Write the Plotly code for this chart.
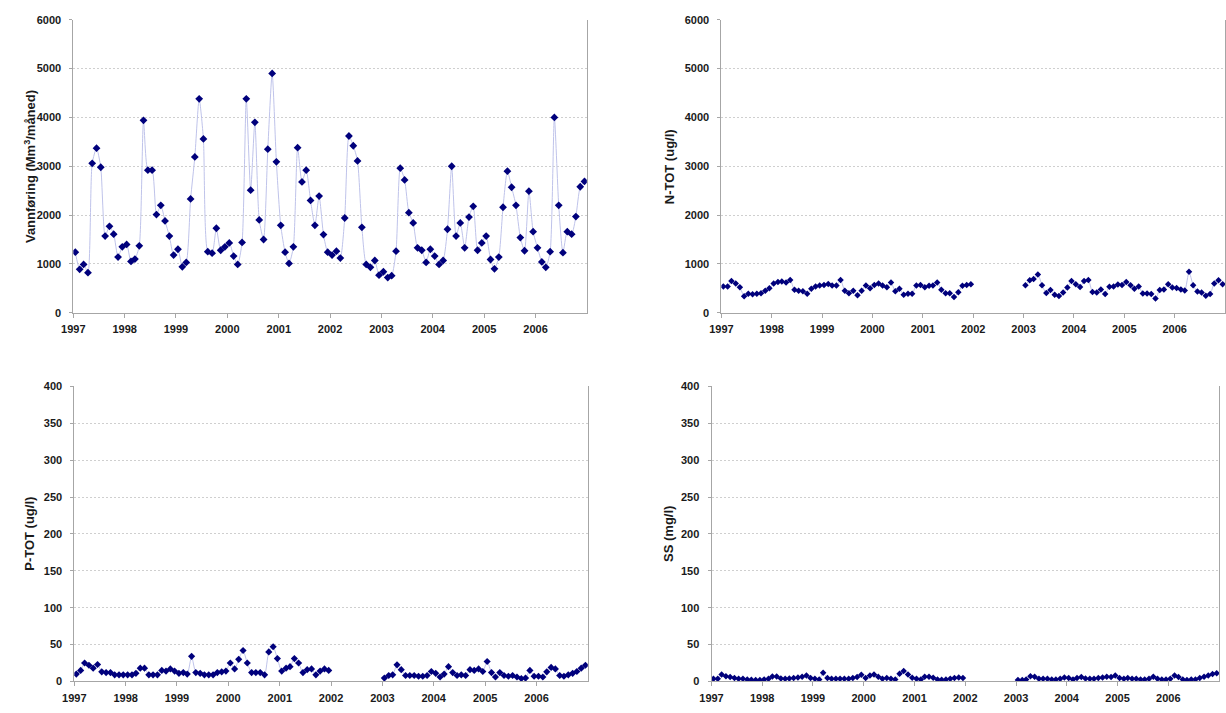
import plotly.graph_objects as go

# ---- time axis: monthly samples, plotted mid-month ----
YEARS = list(range(1997, 2007))
MONTH_DATES = [f"{y}-{m:02d}-15" for y in YEARS for m in range(1, 13)]
YEAR_TICKS = [f"{y}-01-01" for y in YEARS]
YEAR_LABELS = [str(y) for y in YEARS]

NA = [None] * 12  # no sampling in 2002 for the water-quality series

# ---- Vannføring (Mm3/måned) ----
flow_1997 = [1240, 890, 990, 820, 3060, 3370, 2980, 1570, 1770, 1610, 1140, 1350]
flow_1998 = [1400, 1050, 1100, 1370, 3940, 2920, 2920, 2010, 2200, 1880, 1570, 1180]
flow_1999 = [1300, 940, 1030, 2330, 3190, 4380, 3560, 1250, 1220, 1730, 1280, 1350]
flow_2000 = [1430, 1160, 990, 1440, 4380, 2510, 3900, 1900, 1500, 3350, 4900, 3090]
flow_2001 = [1790, 1240, 1010, 1350, 3380, 2680, 2920, 2300, 1790, 2390, 1600, 1240]
flow_2002 = [1180, 1260, 1120, 1940, 3620, 3420, 3110, 1750, 990, 930, 1070, 770]
flow_2003 = [840, 720, 760, 1260, 2960, 2720, 2050, 1840, 1330, 1280, 1030, 1300]
flow_2004 = [1160, 990, 1070, 1710, 3000, 1570, 1840, 1330, 1960, 2180, 1280, 1430]
flow_2005 = [1570, 1090, 900, 1140, 2160, 2900, 2570, 2200, 1540, 1270, 2490, 1660]
flow_2006 = [1330, 1040, 930, 1250, 4000, 2200, 1230, 1660, 1610, 1970, 2580, 2690]
vannforing = (flow_1997 + flow_1998 + flow_1999 + flow_2000 + flow_2001 +
              flow_2002 + flow_2003 + flow_2004 + flow_2005 + flow_2006)

# ---- N-TOT (ug/l) ----
ntot_1997 = [540, 540, 650, 600, 520, 340, 390, 380, 390, 400, 450, 500]
ntot_1998 = [600, 630, 640, 620, 670, 470, 450, 440, 390, 490, 540, 560]
ntot_1999 = [570, 590, 560, 560, 670, 450, 400, 450, 360, 450, 560, 500]
ntot_2000 = [570, 600, 560, 520, 620, 440, 490, 370, 390, 390, 560, 570]
ntot_2001 = [520, 555, 560, 620, 470, 400, 400, 320, 420, 555, 570, 585]
ntot_2003 = [565, 665, 690, 785, 565, 405, 465, 370, 345, 415, 515, 650]
ntot_2004 = [585, 525, 650, 670, 425, 415, 475, 385, 530, 540, 580, 570]
ntot_2005 = [630, 565, 490, 540, 395, 395, 385, 290, 465, 475, 585, 515]
ntot_2006 = [505, 475, 455, 840, 565, 435, 415, 350, 385, 600, 665, 585]
ntot = (ntot_1997 + ntot_1998 + ntot_1999 + ntot_2000 + ntot_2001 + NA +
        ntot_2003 + ntot_2004 + ntot_2005 + ntot_2006)

# ---- P-TOT (ug/l) ----
ptot_1997 = [10, 15, 25, 22, 18, 23, 13, 12, 12, 9, 9, 9]
ptot_1998 = [9, 9, 11, 18, 18, 9, 9, 9, 15, 14, 17, 14]
ptot_1999 = [11, 12, 10, 34, 12, 11, 9, 9, 9, 12, 13, 14]
ptot_2000 = [25, 17, 30, 42, 25, 12, 12, 12, 9, 40, 47, 31]
ptot_2001 = [14, 18, 20, 31, 25, 12, 16, 17, 9, 14, 17, 15]
ptot_2003 = [4.5, 8, 9, 22.5, 16, 8, 8, 8, 7, 7, 8, 13.5]
ptot_2004 = [11, 6, 10, 20, 12, 8, 9, 8, 16, 15, 17, 13.5]
ptot_2005 = [27, 12, 6, 12, 8, 7, 8, 6, 4, 4.5, 15, 7]
ptot_2006 = [7, 6, 13, 19, 17, 8, 7, 9, 11, 13.5, 18, 22]
ptot = (ptot_1997 + ptot_1998 + ptot_1999 + ptot_2000 + ptot_2001 + NA +
        ptot_2003 + ptot_2004 + ptot_2005 + ptot_2006)

# ---- SS (mg/l) ----
ss_1997 = [3.6, 3.6, 9.5, 7, 6, 4.5, 3.6, 3.6, 2.7, 2.3, 1.8, 1.8]
ss_1998 = [2.7, 3.6, 6.8, 6.8, 4, 3.6, 4, 4.5, 5.4, 6.3, 8, 4.5]
ss_1999 = [3.6, 2.7, 11.7, 4.5, 3.6, 3.6, 3.6, 3.6, 3.6, 4.5, 6, 9]
ss_2000 = [4.5, 8, 9.5, 6.3, 3.6, 4.5, 3.6, 2.7, 10.4, 14, 9.5, 5]
ss_2001 = [3.6, 2.7, 6.3, 6.3, 5, 2.7, 2.3, 2.7, 3.6, 4.5, 5.4, 4.5]
ss_2003 = [1.8, 1.8, 2.7, 7.2, 6.3, 3.6, 3.6, 3.6, 2.7, 2.7, 3.6, 5.4]
ss_2004 = [4.5, 2.7, 4.5, 6, 4, 3.6, 3.6, 4.5, 5.4, 6.3, 6, 8]
ss_2005 = [4.5, 3.6, 4.5, 3.6, 3.6, 2.7, 2.7, 3.6, 6.3, 3.6, 2.7, 2.7]
ss_2006 = [3.6, 8, 6, 2.7, 1.8, 2.7, 2.7, 4.5, 6.3, 8, 10, 11]
ss = (ss_1997 + ss_1998 + ss_1999 + ss_2000 + ss_2001 + NA +
      ss_2003 + ss_2004 + ss_2005 + ss_2006)

W, H = 1226, 713
MARKER = "#00007c"
LINE = "#bfc3ea"
AXIS = "#a6a6a6"
GRID = "#cfcfcf"
FONT = "Liberation Sans"


def px_x(a, b):
    return [a / W, b / W]


def px_y(top, bottom):
    return [(H - bottom) / H, (H - top) / H]


panels = [
    # (values, y-max, dtick, title, x-domain, y-domain, marker size, title x)
    (vannforing, 6000, 1000, "Vannføring (Mm<sup>3</sup>/måned)", px_x(62, 581), px_y(14, 312), 6, 18),
    (ntot, 6000, 1000, "N-TOT (ug/l)", px_x(717, 1226), px_y(14, 312), 5, 664),
    (ptot, 400, 50, "P-TOT (ug/l)", px_x(63, 582), px_y(387, 687), 5.5, 18),
    (ss, 400, 50, "SS (mg/l)", px_x(707, 1220), px_y(387, 687), 5, 664),
]

fig = go.Figure()
layout = dict(
    width=W, height=H,
    margin=dict(l=0, r=0, t=0, b=0),
    paper_bgcolor="white", plot_bgcolor="white",
    showlegend=False,
    font=dict(family=FONT, size=11, color="#1a1a1a"),
)
annotations = []

for i, (vals, ymax, dtick, title, xdom, ydom, msize, tx) in enumerate(panels, start=1):
    sfx = "" if i == 1 else str(i)
    fig.add_trace(go.Scatter(
        x=MONTH_DATES, y=vals,
        mode="lines+markers",
        line=dict(color=LINE, width=1, shape="spline", smoothing=0.6),
        marker=dict(symbol="diamond", size=msize, color=MARKER),
        connectgaps=False,
        xaxis="x" + sfx, yaxis="y" + sfx,
        hoverinfo="x+y",
    ))
    layout["xaxis" + sfx] = dict(
        domain=xdom, anchor="y" + sfx, type="date",
        range=["1997-01-01", "2007-01-01"],
        tickmode="array", tickvals=YEAR_TICKS, ticktext=YEAR_LABELS,
        ticks="outside", ticklen=4, tickcolor=AXIS,
        showline=True, linecolor=AXIS, linewidth=1,
        showgrid=False, zeroline=False,
        tickfont=dict(family=FONT, size=11, color="#1a1a1a", weight="bold"),
        ticklabelstandoff=2,
    )
    layout["yaxis" + sfx] = dict(
        domain=ydom, anchor="x" + sfx,
        range=[0, ymax], dtick=dtick, tick0=0,
        ticks="outside", ticklen=3, tickcolor=AXIS,
        showline=True, linecolor=AXIS, linewidth=1, mirror=True,
        showgrid=True, gridcolor=GRID, griddash="2px,2px", gridwidth=1,
        zeroline=False,
        tickfont=dict(family=FONT, size=11, color="#1a1a1a", weight="bold"),
        ticklabelstandoff=6,
    )
    annotations.append(dict(
        text=title, textangle=-90,
        x=tx / W, y=(ydom[0] + ydom[1]) / 2,
        xref="paper", yref="paper", xanchor="center", yanchor="middle",
        showarrow=False,
        font=dict(family=FONT, size=13, color="#1a1a1a", weight="bold"),
    ))

layout["annotations"] = annotations
fig.update_layout(**layout)
fig.write_html(
    "out.html",
    post_script="document.body.style.margin='0';document.body.style.overflow='hidden';",
)
